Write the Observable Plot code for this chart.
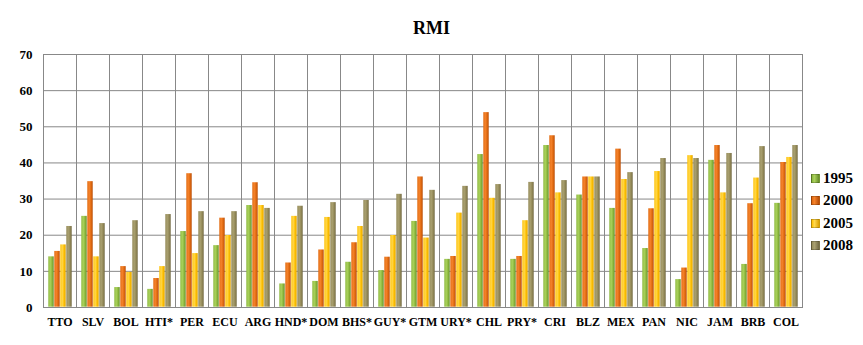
<!DOCTYPE html>
<html>
<head>
<meta charset="utf-8">
<script src="https://cdn.jsdelivr.net/npm/d3@7"></script>
<script src="https://cdn.jsdelivr.net/npm/@observablehq/plot@0.6"></script>
<style>
  body { margin: 0; background: #fff; font-family: "Liberation Serif", "Times New Roman", serif; }
  #wrap { position: relative; width: 863px; height: 345px; }
  #title { height: 44px; line-height: 44px; text-align: center; font-weight: bold; font-size: 18px; padding-top: 6px; box-sizing: border-box; }
  #legend { position: absolute; left: 811px; top: 167px; font-weight: bold; font-size: 15px; }
  #legend .item { height: 22.5px; display: flex; align-items: center; }
  #legend .sw { width: 7px; height: 7px; margin-right: 3px; border: 0.5px solid rgba(0,0,0,0.2); }
</style>
</head>
<body>
<div id="wrap">
  <div id="title">RMI</div>
  <div id="chart"></div>
  <div id="legend"></div>
</div>
<script>
const countries = ["TTO","SLV","BOL","HTI*","PER","ECU","ARG","HND*","DOM","BHS*","GUY*","GTM","URY*","CHL","PRY*","CRI","BLZ","MEX","PAN","NIC","JAM","BRB","COL"];
const years = ["1995","2000","2005","2008"];
const v1995 = [14.1,25.3,5.6,5.1,21.1,17.2,28.3,6.6,7.3,12.6,10.3,23.9,13.4,42.4,13.4,44.9,31.2,27.5,16.4,7.8,40.8,12.0,28.9];
const v2000 = [15.6,34.9,11.4,8.1,37.1,24.8,34.6,12.4,16.0,18.0,14.0,36.2,14.2,54.0,14.2,47.6,36.2,43.9,27.4,11.0,44.9,28.8,40.2];
const v2005 = [17.4,14.1,9.8,11.4,15.0,20.0,28.3,25.3,25.0,22.5,20.0,19.3,26.2,30.3,24.1,31.8,36.2,35.5,37.7,42.1,31.8,35.9,41.6];
const v2008 = [22.5,23.3,24.1,25.8,26.6,26.6,27.5,28.1,29.1,29.7,31.4,32.5,33.6,34.1,34.7,35.2,36.2,37.4,41.3,41.3,42.7,44.6,44.9];
const yTicks = [0,10,20,30,40,50,60,70];

const palette = {
  "1995": {light: "#aad25c", mid: "#8cb83e", dark: "#648c28"},
  "2000": {light: "#f5832c", mid: "#e06a10", dark: "#b84c06"},
  "2005": {light: "#ffd84e", mid: "#ffc000", dark: "#dca000"},
  "2008": {light: "#a9a070", mid: "#948a58", dark: "#716842"}
};

const series = [v1995, v2000, v2005, v2008];
const data = [];
countries.forEach((c, i) => years.forEach((y, j) => data.push({country: c, year: y, value: series[j][i]})));

const serif = "'Liberation Serif', 'Times New Roman', serif";

const plot = Plot.plot({
  width: 863,
  height: 301,
  marginTop: 10,
  marginBottom: 38,
  marginLeft: 39,
  marginRight: 58,
  style: {fontWeight: "bold", fontSize: "12px", color: "#000", background: "#fff"},
  fx: {domain: countries, padding: 0, axis: "bottom", tickSize: 0, tickPadding: 10, label: null},
  x: {domain: years, axis: null, paddingInner: 0, paddingOuter: 0.65},
  y: {domain: [0, 70], ticks: yTicks, tickSize: 0, tickPadding: 11, label: null},
  color: {domain: years, range: years.map(y => `url(#g${y})`)},
  marks: [
    Plot.gridY(yTicks, {stroke: "#888", strokeOpacity: 1, strokeWidth: 1}),
    Plot.frame({stroke: "#888", strokeWidth: 1}),
    Plot.axisY(yTicks, {tickSize: 0, tickPadding: 11, fontSize: 13, label: null}),
    Plot.barY(data, {fx: "country", x: "year", y: "value", fill: "year", inset: 0.3})
  ]
});

plot.style.fontFamily = serif;
plot.querySelectorAll("text").forEach(el => { el.style.fontFamily = serif; el.style.fontWeight = "bold"; });

// gradient defs for cylinder-like bars
const ns = "http://www.w3.org/2000/svg";
const defs = document.createElementNS(ns, "defs");
years.forEach(y => {
  const p = palette[y];
  const g = document.createElementNS(ns, "linearGradient");
  g.setAttribute("id", "g" + y);
  g.setAttribute("x1", "0"); g.setAttribute("x2", "1"); g.setAttribute("y1", "0"); g.setAttribute("y2", "0");
  [[0, p.mid], [0.35, p.light], [0.7, p.mid], [1, p.dark]].forEach(([o, c]) => {
    const s = document.createElementNS(ns, "stop");
    s.setAttribute("offset", o);
    s.setAttribute("stop-color", c);
    g.appendChild(s);
  });
  defs.appendChild(g);
});
plot.insertBefore(defs, plot.firstChild);
document.getElementById("chart").appendChild(plot);

const legend = document.getElementById("legend");
years.forEach(y => {
  const p = palette[y];
  const item = document.createElement("div");
  item.className = "item";
  const sw = document.createElement("span");
  sw.className = "sw";
  sw.style.background = `linear-gradient(90deg, ${p.mid}, ${p.light} 35%, ${p.dark})`;
  const t = document.createElement("span");
  t.textContent = y;
  item.appendChild(sw);
  item.appendChild(t);
  legend.appendChild(item);
});
</script>
</body>
</html>
